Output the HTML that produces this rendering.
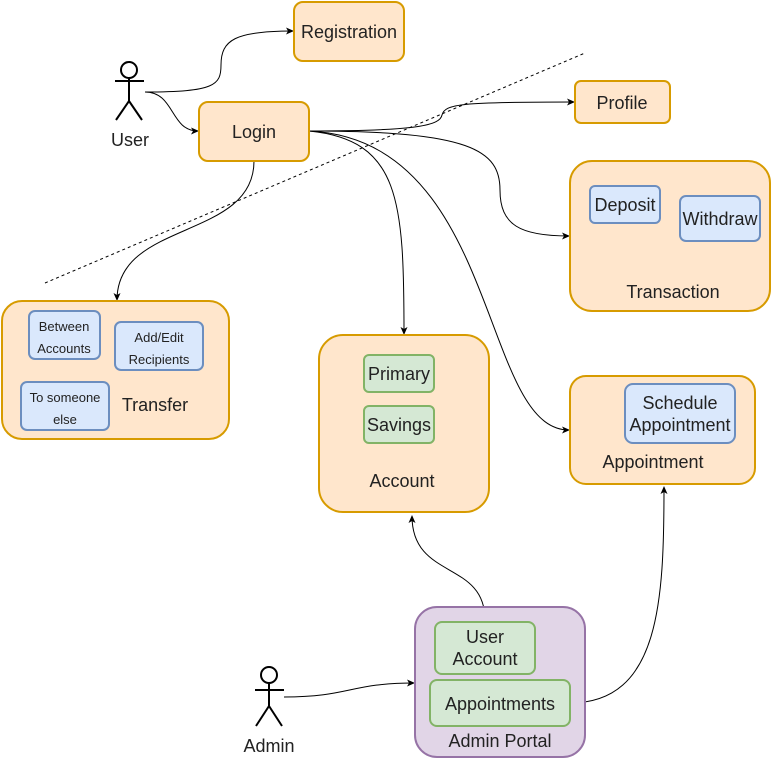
<!DOCTYPE html>
<html><head><meta charset="utf-8"><style>
body{margin:0;background:#fff}
svg text{font-family:"Liberation Sans",Helvetica,sans-serif;fill:#222}
</style></head><body>
<svg width="772" height="759" viewBox="0 0 772 759" xmlns="http://www.w3.org/2000/svg">
<defs><marker id="a" markerWidth="8" markerHeight="8" refX="7" refY="4" orient="auto" markerUnits="userSpaceOnUse"><path d="M0,0.5 L8,4 L0,7.5 L2,4z" fill="#000"/></marker></defs>
<line x1="45" y1="283" x2="585" y2="53" stroke="#000" stroke-dasharray="3,3" stroke-width="1"/>
<g fill="none" stroke="#000" stroke-width="1" marker-end="url(#a)">
<path d="M145,92 C215,92 221,85 221,65 C221,40 235,31 293,31"/>
<path d="M145,92 C175,92 170,131 198,131"/>
<path d="M309,131 C420,131 440,125 442,115 C445,104 460,102 574,102"/>
<path d="M309,131 C470,131 500,150 500,190 C500,225 520,236 569,236"/>
<path d="M309,131 C500,140 480,430 569,430"/>
<path d="M309,131 C400,140 404,200 404,334"/>
<path d="M254,161 C254,240 117,220 117,300"/>
<path d="M485,620 C485,560 412,580 412,516"/>
<path d="M570,703 C660,703 664,600 664,487"/>
<path d="M284,697 C350,697 350,683 414,683"/>
</g>
<g stroke-width="2">
<rect x="294" y="2" width="110" height="59" rx="9" fill="#ffe6cc" stroke="#d79b00"/>
<rect x="575" y="81" width="95" height="42" rx="6" fill="#ffe6cc" stroke="#d79b00"/>
<rect x="199" y="102" width="110" height="59" rx="9" fill="#ffe6cc" stroke="#d79b00"/>
<rect x="570" y="161" width="200" height="150" rx="22" fill="#ffe6cc" stroke="#d79b00"/>
<rect x="2" y="301" width="227" height="138" rx="20" fill="#ffe6cc" stroke="#d79b00"/>
<rect x="319" y="335" width="170" height="177" rx="24" fill="#ffe6cc" stroke="#d79b00"/>
<rect x="570" y="376" width="185" height="108" rx="16" fill="#ffe6cc" stroke="#d79b00"/>
<rect x="415" y="607" width="170" height="150" rx="22" fill="#e1d5e7" stroke="#9673a6"/>
</g>
<g stroke-width="2" fill="#dae8fc" stroke="#6c8ebf">
<rect x="590" y="186" width="70" height="37" rx="5"/>
<rect x="680" y="196" width="80" height="45" rx="6"/>
<rect x="29" y="311" width="71" height="48" rx="6"/>
<rect x="115" y="322" width="88" height="48" rx="6"/>
<rect x="21" y="382" width="88" height="48" rx="6"/>
<rect x="625" y="384" width="110" height="59" rx="8"/>
</g>
<g stroke-width="2" fill="#d5e8d4" stroke="#82b366">
<rect x="364" y="355" width="70" height="37" rx="5"/>
<rect x="364" y="406" width="70" height="37" rx="5"/>
<rect x="435" y="622" width="100" height="52" rx="7"/>
<rect x="430" y="680" width="140" height="46" rx="7"/>
</g>
<g font-size="18" text-anchor="middle">
<text x="349" y="38">Registration</text>
<text x="622" y="109">Profile</text>
<text x="254" y="138">Login</text>
<text x="625" y="211">Deposit</text>
<text x="720" y="225">Withdraw</text>
<text x="673" y="298">Transaction</text>
<text x="155" y="411">Transfer</text>
<text x="399" y="380">Primary</text>
<text x="399" y="431">Savings</text>
<text x="402" y="487">Account</text>
<text x="680" y="409">Schedule</text>
<text x="680" y="431">Appointment</text>
<text x="653" y="468">Appointment</text>
<text x="485" y="643">User</text>
<text x="485" y="665">Account</text>
<text x="500" y="710">Appointments</text>
<text x="500" y="747">Admin Portal</text>
<text x="130" y="146">User</text>
<text x="269" y="752">Admin</text>
</g>
<g font-size="13" text-anchor="middle">
<text x="64" y="331">Between</text>
<text x="64" y="353">Accounts</text>
<text x="159" y="342">Add/Edit</text>
<text x="159" y="364">Recipients</text>
<text x="65" y="402">To someone</text>
<text x="65" y="424">else</text>
</g>
<g fill="none" stroke="#000" stroke-width="2">
<circle cx="129" cy="70" r="8"/>
<path d="M129,78 V101 M115,81 H144 M129,101 L116,120 M129,101 L142,120"/>
<circle cx="269" cy="675" r="8"/>
<path d="M269,683 V706 M255,690 H284 M269,706 L256,726 M269,706 L282,726"/>
</g>
</svg>
</body></html>
